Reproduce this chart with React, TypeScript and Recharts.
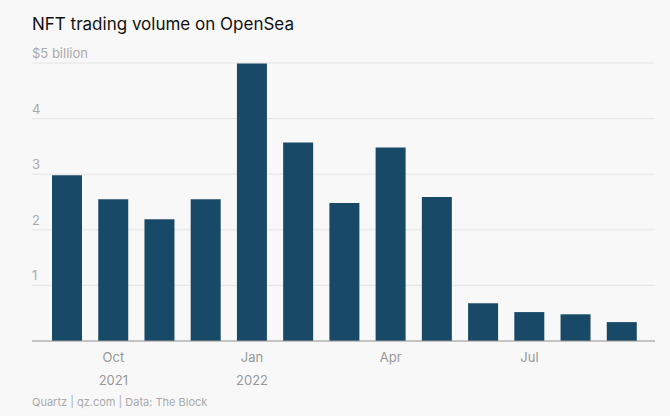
import React from "react";
import { BarChart, Bar, XAxis, YAxis, CartesianGrid } from "recharts";

const months = ["Sep 2021","Oct 2021","Nov 2021","Dec 2021","Jan 2022","Feb 2022","Mar 2022","Apr 2022","May 2022","Jun 2022","Jul 2022","Aug 2022","Sep 2022"];
const volumes = [2.98, 2.55, 2.19, 2.55, 4.99, 3.57, 2.48, 3.48, 2.59, 0.68, 0.52, 0.48, 0.34];
const tickLabels: Record<string, [string, string]> = {
  "Oct 2021": ["Oct", "2021"],
  "Jan 2022": ["Jan", "2022"],
  "Apr 2022": ["Apr", ""],
  "Jul 2022": ["Jul", ""],
};
const yTicks = [0, 1, 2, 3, 4, 5];

const data = months.map((m, i) => ({ month: m, value: volumes[i] }));
const font = "Inter, 'Noto Sans', sans-serif";

const XTick = (props: any) => {
  const { x, y, payload } = props;
  const lbl = tickLabels[payload.value];
  if (!lbl) return null;
  return (
    <g>
      <text x={x} y={y + 13} textAnchor="middle" fill="#999" fontSize={13} fontFamily={font}>{lbl[0]}</text>
      {lbl[1] && <text x={x} y={y + 36} textAnchor="middle" fill="#999" fontSize={13} fontFamily={font}>{lbl[1]}</text>}
    </g>
  );
};

const YTick = (props: any) => {
  const { y, payload } = props;
  if (payload.value === 0) return null;
  return (
    <text x={32} y={y - 5} fill="#aaa" fontSize={13} fontFamily={font}>
      {payload.value === 5 ? "$5 billion" : payload.value}
    </text>
  );
};

export default function App() {
  return (
    <div style={{ position: "fixed", left: 0, top: 0, width: 670, height: 416, background: "#f8f8f8", fontFamily: font }}>
      <div style={{ position: "absolute", left: 32, top: 14, fontSize: 17, color: "#111" }}>NFT trading volume on OpenSea</div>
      <BarChart width={670} height={416} data={data} margin={{ top: 63, left: 31, right: 15, bottom: 74 }}>
        <CartesianGrid vertical={false} stroke="#e4e4e4" />
        <YAxis domain={[0, 5]} ticks={yTicks} width={1} axisLine={false} tickLine={false} tick={<YTick />} />
        <XAxis dataKey="month" interval={0} height={1} padding={{ left: 12, right: 10 }} stroke="#999" tickLine={false} tick={<XTick />} />
        <Bar dataKey="value" fill="#184a68" barSize={30} isAnimationActive={false} />
      </BarChart>
      <div style={{ position: "absolute", left: 32, top: 395, fontSize: 11, color: "#aaa" }}>Quartz | qz.com | Data: The Block</div>
    </div>
  );
}
